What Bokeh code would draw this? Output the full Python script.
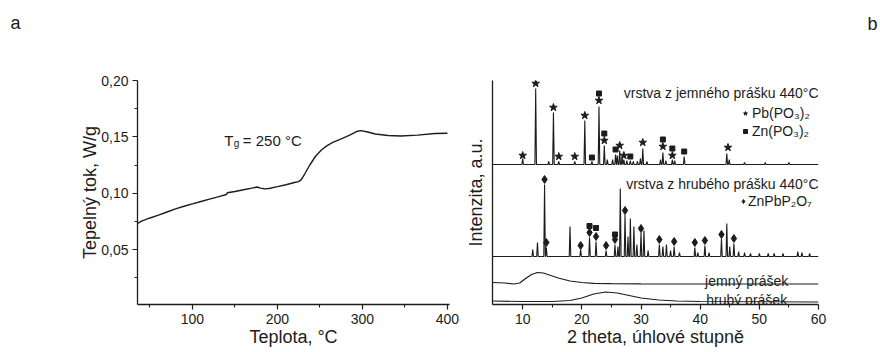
from bokeh.plotting import figure
from bokeh.models import FixedTicker, CustomJSTickFormatter, Label, Range1d, Legend, LegendItem
from bokeh.layouts import row, column
from bokeh.embed import file_html
from bokeh.resources import INLINE

FONT = "Liberation Sans"
INK = "#1c1c1c"

# ---------------- panel a : DSC ----------------
dsc_temp = [35, 40, 50, 60, 70, 80, 90, 100, 110, 120, 130, 140, 141, 150, 160, 170, 176, 180,
            185, 190, 200, 210, 220, 225, 228, 232, 238, 245, 252, 258, 265, 275, 285, 293, 298,
            305, 315, 330, 345, 365, 385, 400]
dsc_flow = [0.0730, 0.0752, 0.0780, 0.0805, 0.0833, 0.0860, 0.0884, 0.0905, 0.0926, 0.0947,
            0.0967, 0.0988, 0.1004, 0.1015, 0.1030, 0.1045, 0.1055, 0.1045, 0.1038, 0.1042,
            0.1058, 0.1075, 0.1095, 0.1103, 0.1120, 0.1170, 0.1250, 0.1330, 0.1385, 0.1420,
            0.1450, 0.1482, 0.1515, 0.1547, 0.1555, 0.1545, 0.1525, 0.1512, 0.1507, 0.1515,
            0.1530, 0.1532]
dsc_xticks = [100, 200, 300, 400]
dsc_xminor = [50, 150, 250, 350]
dsc_yticks = [0.05, 0.10, 0.15, 0.20]
dsc_yminor = [0.025, 0.075, 0.125, 0.175]

# ---------------- panel b : XRD ----------------
xrd_xticks = [10, 20, 30, 40, 50, 60]
xrd_xminor = [15, 25, 35, 45, 55]

fine_layer_base = 140
fine_layer_pos = [10.0, 12.2, 14.4, 15.2, 16.1, 18.8, 20.5, 21.7, 22.9, 23.8, 24.3, 25.2, 25.7,
                  26.0, 26.4, 26.8, 27.1, 27.6, 28.2, 28.7, 29.4, 29.9, 30.3, 31.0, 33.3, 33.7,
                  34.2, 35.3, 35.7, 37.3, 44.5, 44.9, 47.5, 51.0, 55.0]
fine_layer_h = [6, 76, 3, 52, 3, 3, 44, 3, 58, 19, 5, 5, 10, 9, 14, 8, 5, 4, 4, 3, 3, 6, 16, 3,
                5, 12, 4, 5, 4, 8, 11, 5, 2, 2, 2]

coarse_layer_base = 48
coarse_layer_pos = [11.7, 12.5, 13.7, 14.0, 18.0, 19.8, 21.3, 22.4, 24.1, 25.6, 26.1, 26.5, 27.3,
                    27.8, 28.2, 28.8, 29.3, 30.0, 30.5, 31.2, 33.1, 33.7, 34.3, 35.0, 35.6, 36.5,
                    39.1, 39.6, 40.8, 41.5, 43.6, 44.5, 45.0, 45.7, 46.5, 47.5, 48.5, 50.0, 51.5,
                    52.5, 54.0, 56.5, 57.2, 58.5]
coarse_layer_h = [7, 14, 72, 9, 30, 7, 19, 15, 6, 12, 10, 68, 42, 20, 38, 30, 12, 24, 26, 6, 12,
                  10, 12, 6, 10, 4, 9, 4, 11, 4, 18, 33, 10, 13, 5, 4, 3, 3, 3, 3, 3, 5, 4, 3]

fine_powder_x = [4.9, 7, 8.5, 9.5, 10.5, 11.5, 12.5, 13.5, 14.5, 16, 18, 20, 22, 25, 30, 40, 60]
fine_powder_y = [22, 21.5, 20.5, 21.5, 26, 30, 32, 31.5, 29.5, 26.5, 23.5, 22, 21.2, 20.8, 20.6,
                 20.5, 20.5]
coarse_powder_x = [4.9, 10, 15, 18, 20, 22, 24, 26, 28, 30, 33, 36, 40, 60]
coarse_powder_y = [3.5, 3, 3, 4, 6.5, 10.5, 12.5, 11.5, 9, 6.5, 4.5, 3.5, 3, 2.5]

pb_x = [10.0, 12.2, 15.2, 16.1, 18.8, 20.5, 22.9, 23.8, 26.4, 27.1, 30.3, 33.7, 35.3, 44.7]
pb_y = [149, 221, 197, 148, 148, 189, 204, 164, 159, 149, 162, 158, 149, 157]
zn_x = [21.7, 22.9, 23.8, 25.7, 28.2, 33.7, 35.3, 37.3, 21.3, 22.4, 25.6]
zn_y = [147, 211, 171, 155, 148, 165, 156, 153, 78.5, 76.5, 70]
znpb_x = [13.7, 14.0, 19.8, 21.3, 22.4, 24.1, 25.6, 27.3, 30.0, 33.1, 35.6, 39.1, 40.8, 43.6, 45.7]
znpb_y = [125, 62, 59, 72, 68, 59, 65, 94, 76, 65, 63, 62, 64, 70, 66]


def stick_trace(base, pos, heights, x0=4.9, x1=60.0, half=0.13):
    xs, ys = [x0], [base]
    for p, h in sorted(zip(pos, heights)):
        xs += [p - half, p, p + half]
        ys += [base, base + h, base]
    xs.append(x1)
    ys.append(base)
    return xs, ys


def style_axis(ax):
    ax.axis_line_color = INK
    ax.axis_line_width = 1.3
    ax.major_tick_line_color = INK
    ax.major_tick_line_width = 1.2
    ax.minor_tick_line_color = INK
    ax.minor_tick_line_width = 1.1
    ax.major_tick_in = 0
    ax.major_tick_out = 5
    ax.minor_tick_in = 0
    ax.minor_tick_out = 3
    ax.major_label_text_font = FONT
    ax.major_label_text_font_size = "14px"
    ax.major_label_text_color = INK
    ax.major_label_standoff = 4
    ax.axis_label_text_font = FONT
    ax.axis_label_text_font_size = "18px"
    ax.axis_label_text_font_style = "normal"
    ax.axis_label_text_color = INK


def lab(p, x, y, text, size="14px", align="left", baseline="alphabetic"):
    p.add_layout(Label(x=x, y=y, text=text, text_font=FONT, text_font_size=size,
                       text_color=INK, text_align=align, text_baseline=baseline))


def clean(p):
    p.grid.visible = False
    p.outline_line_color = None
    p.background_fill_color = "white"
    p.border_fill_color = "white"


# ---- header strip with panel letters ----
head = figure(width=880, height=60, x_range=Range1d(0, 880), y_range=Range1d(60, 0),
              output_backend="svg", toolbar_location=None, title=None,
              x_axis_location=None, y_axis_location=None,
              min_border_left=0, min_border_right=0, min_border_top=0, min_border_bottom=0)
clean(head)
lab(head, 15, 22, "a", size="18px", align="center", baseline="middle")
lab(head, 872, 23, "b", size="18px", align="center", baseline="middle")

# ---- figure a ----
p1 = figure(width=460, height=292, x_range=Range1d(35.3, 402.4), y_range=Range1d(0.0012, 0.2),
            output_backend="svg", toolbar_location=None, title=None,
            min_border_left=137, min_border_right=11, min_border_top=20, min_border_bottom=48)
clean(p1)
for ax in (p1.xaxis[0], p1.yaxis[0]):
    style_axis(ax)
p1.xaxis[0].ticker = FixedTicker(ticks=dsc_xticks, minor_ticks=dsc_xminor)
p1.yaxis[0].ticker = FixedTicker(ticks=dsc_yticks, minor_ticks=dsc_yminor)
p1.yaxis[0].formatter = CustomJSTickFormatter(code="return tick.toFixed(2).replace('.', ',');")
p1.yaxis[0].axis_label = "Tepelný tok, W/g"
p1.yaxis[0].axis_label_standoff = -2
p1.xaxis[0].axis_label = "Teplota, °C"
p1.xaxis[0].axis_label_standoff = 0

p1.line(dsc_temp, dsc_flow, line_color=INK, line_width=1.4)

lab(p1, 137.4, 0.1465, "T", size="15px")
lab(p1, 148.5, 0.1438, "g", size="10px")
lab(p1, 159.2, 0.1465, "= 250 °C", size="15px")

# ---- figure b ----
p2 = figure(width=420, height=292, x_range=Range1d(4.9, 60.0), y_range=Range1d(0, 224),
            output_backend="svg", toolbar_location=None, title=None,
            min_border_left=32, min_border_right=62, min_border_top=20, min_border_bottom=48)
clean(p2)
for ax in (p2.xaxis[0], p2.yaxis[0]):
    style_axis(ax)
p2.xaxis[0].ticker = FixedTicker(ticks=xrd_xticks, minor_ticks=xrd_xminor)
p2.xaxis[0].axis_label = "2 theta, úhlové stupně"
p2.xaxis[0].axis_label_standoff = 0
p2.yaxis[0].ticker = FixedTicker(ticks=[], minor_ticks=[])
p2.yaxis[0].major_tick_out = 0
p2.yaxis[0].minor_tick_out = 0
p2.yaxis[0].major_label_standoff = 0
p2.yaxis[0].axis_label = "Intenzita, a.u."
p2.yaxis[0].axis_label_standoff = 7

fx, fy = stick_trace(fine_layer_base, fine_layer_pos, fine_layer_h)
cx, cy = stick_trace(coarse_layer_base, coarse_layer_pos, coarse_layer_h)
p2.line(fx, fy, line_color=INK, line_width=1.1)
p2.line(cx, cy, line_color=INK, line_width=1.1)
p2.line(fine_powder_x, fine_powder_y, line_color=INK, line_width=1.2)
p2.line(coarse_powder_x, coarse_powder_y, line_color=INK, line_width=1.2)

r_pb = p2.scatter(pb_x, pb_y, marker="star", size=8, color=INK)
r_zn = p2.scatter(zn_x, zn_y, marker="square", size=5, color=INK)
r_znpb = p2.scatter(znpb_x, znpb_y, marker="diamond", size=8, color=INK)

leg1 = Legend(items=[LegendItem(label="Pb(PO₃)₂", renderers=[r_pb]),
                     LegendItem(label="Zn(PO₃)₂", renderers=[r_zn])],
              location=(248, 165))
leg2 = Legend(items=[LegendItem(label="ZnPbP₂O₇", renderers=[r_znpb])], location=(246, 95))
for lg, sw in ((leg1, 2), (leg2, 0)):
    lg.background_fill_alpha = 0
    lg.border_line_alpha = 0
    lg.padding = 0
    lg.margin = 0
    lg.spacing = 2
    lg.glyph_width = 10
    lg.glyph_height = 16
    lg.label_height = 16
    lg.label_standoff = sw
    lg.label_text_font = FONT
    lg.label_text_font_size = "14px"
    lg.label_text_color = INK
    p2.add_layout(lg)

lab(p2, 60, 212, "vrstva z jemného prášku 440°C", align="right")
lab(p2, 60, 121, "vrstva z hrubého prášku 440°C", align="right")
lab(p2, 54.9, 23.5, "jemný prášek", align="right")
lab(p2, 54.7, 4.7, "hrubý prášek", align="right")

layout = column(head, row(p1, p2))
open("out.html", "w").write(file_html(layout, INLINE))
